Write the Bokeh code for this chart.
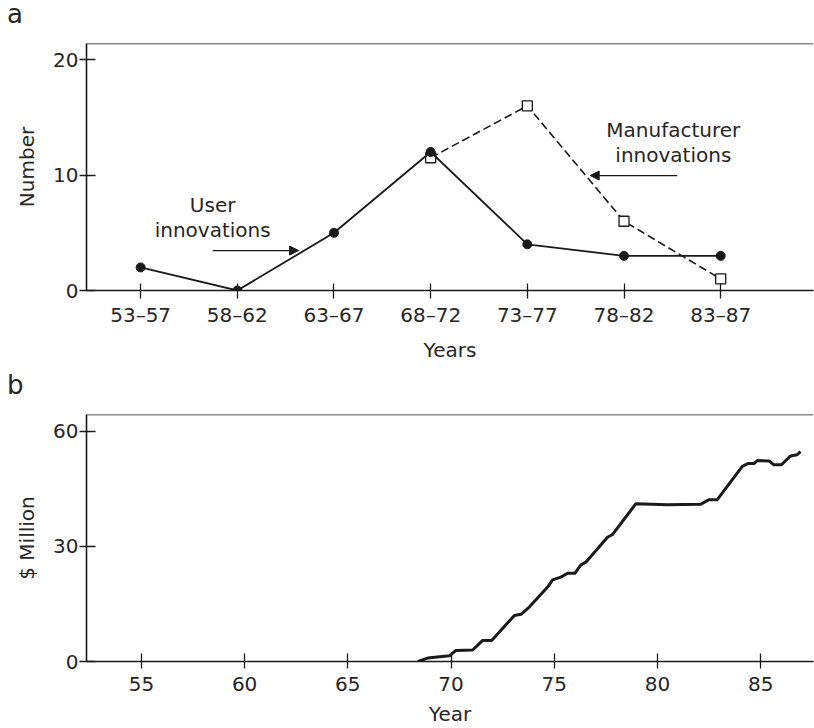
from bokeh.plotting import figure
from bokeh.models import Range1d, FixedTicker, Label, Arrow, NormalHead, Span, Div
from bokeh.layouts import column
from bokeh.embed import file_html
from bokeh.resources import INLINE

# ---------------- data ----------------
periods = ["53–57", "58–62", "63–67", "68–72", "73–77", "78–82", "83–87"]
user_innov = [2, 0, 5, 12, 4, 3, 3]
manuf_periods = ["68–72", "73–77", "78–82", "83–87"]
manuf_innov = [11.5, 16, 6, 1]

years = [68.39, 68.87, 69.92, 70.24, 71.05, 71.53, 71.97, 73.07, 73.39, 73.79,
         74.68, 74.92, 75.32, 75.65, 76.0, 76.29, 76.53, 77.58, 77.82, 78.95,
         80.48, 82.1, 82.5, 82.9, 84.11, 84.38, 84.67, 84.84, 85.4, 85.64,
         86.01, 86.45, 86.77, 86.93]
million = [0, 0.9, 1.5, 2.9, 3.0, 5.5, 5.5, 12.0, 12.3, 14.2,
           19.4, 21.3, 22.0, 23.0, 23.0, 25.2, 25.9, 32.4, 33.1, 41.1,
           40.9, 41.0, 42.2, 42.2, 50.9, 51.6, 51.6, 52.4, 52.3, 51.3,
           51.3, 53.6, 53.9, 54.7]

a_yticks = [0, 10, 20]
b_xticks = [55, 60, 65, 70, 75, 80, 85]
b_yticks = [0, 30, 60]

FONT = "DejaVu Sans"
TXT = "#262626"
INK = "#1a1a1a"


def style(p):
    p.outline_line_color = None
    p.xgrid.visible = False
    p.ygrid.visible = False
    p.background_fill_color = "white"
    p.border_fill_color = "white"
    for ax in (p.xaxis[0], p.yaxis[0]):
        ax.axis_line_color = INK
        ax.axis_line_width = 1.6
        ax.major_tick_line_color = INK
        ax.major_tick_line_width = 1.3
        ax.minor_tick_line_color = None
        ax.major_label_text_font = FONT
        ax.major_label_text_font_size = "20px"
        ax.major_label_text_color = TXT
        ax.axis_label_text_font = FONT
        ax.axis_label_text_font_size = "20px"
        ax.axis_label_text_font_style = "normal"
        ax.axis_label_text_color = TXT
    p.yaxis.major_tick_in = 9
    p.yaxis.major_tick_out = 7
    p.yaxis.major_label_standoff = 1
    p.yaxis.axis_label_standoff = 11
    # top spine
    p.add_layout(Span(location=p.y_range.end, dimension="width",
                      line_color=INK, line_width=1.6))


def letter(txt, h, lh):
    return Div(text=txt, width=814, height=h,
               styles={"font-family": FONT, "font-size": "26px",
                       "line-height": f"{lh}px", "color": TXT,
                       "padding-left": "7px", "margin": "0"})


# ---------------- panel a ----------------
xa = list(range(len(periods)))
xm = [periods.index(c) for c in manuf_periods]

p1 = figure(width=814, height=342, min_border_left=86, min_border_right=1,
            min_border_top=15, min_border_bottom=80,
            x_range=Range1d(-0.56, 6.96), y_range=Range1d(0, 21.4),
            output_backend="svg", toolbar_location=None, tools="")
style(p1)
p1.xaxis.ticker = FixedTicker(ticks=xa)
p1.xaxis.major_label_overrides = {i: c for i, c in enumerate(periods)}
p1.yaxis.ticker = FixedTicker(ticks=a_yticks)
p1.xaxis.axis_label = "Years"
p1.yaxis.axis_label = "Number"
p1.xaxis.major_tick_in = 7
p1.xaxis.major_tick_out = 8
p1.xaxis.major_label_standoff = 4
p1.xaxis.axis_label_standoff = 8

p1.line(xm, manuf_innov, line_color=INK, line_width=1.6, line_dash="8 4")
p1.scatter(xm, manuf_innov, marker="square", size=10, fill_color="white",
           line_color=INK, line_width=1.3)
p1.line(xa, user_innov, line_color=INK, line_width=1.8)
p1.scatter(xa, user_innov, marker="circle", size=9, fill_color=INK,
           line_color=INK)

p1.add_layout(Label(x=0.745, y=6.3, text="User\ninnovations",
                    text_align="center", text_baseline="middle",
                    text_font=FONT, text_font_size="20px", text_color=TXT,
                    text_line_height=1.03))
p1.add_layout(Arrow(x_start=0.745, y_start=3.46, x_end=1.634, y_end=3.46,
                    line_color=INK, line_width=1.3,
                    end=NormalHead(size=9, fill_color=INK, line_color=INK)))
p1.add_layout(Label(x=5.51, y=12.8, text="Manufacturer\ninnovations",
                    text_align="center", text_baseline="middle",
                    text_font=FONT, text_font_size="20px", text_color=TXT,
                    text_line_height=1.03))
p1.add_layout(Arrow(x_start=5.55, y_start=9.96, x_end=4.65, y_end=9.96,
                    line_color=INK, line_width=1.3,
                    end=NormalHead(size=9, fill_color=INK, line_color=INK)))

# ---------------- panel b ----------------
p2 = figure(width=814, height=330, min_border_left=86, min_border_right=1,
            min_border_top=16, min_border_bottom=67,
            x_range=Range1d(52.34, 87.56), y_range=Range1d(0, 64.4),
            output_backend="svg", toolbar_location=None, tools="")
style(p2)
p2.xaxis.ticker = FixedTicker(ticks=b_xticks)
p2.yaxis.ticker = FixedTicker(ticks=b_yticks)
p2.yaxis.axis_label = "$ Million"
p2.xaxis.axis_label = "Year"
p2.xaxis.major_tick_in = 8
p2.xaxis.major_tick_out = 7
p2.xaxis.major_label_standoff = 8
p2.xaxis.axis_label_standoff = 8

p2.line(years, million, line_color=INK, line_width=3, line_join="round")

layout = column(letter("a", 28, 28), p1, letter("b", 28, 30), p2, spacing=0)
open("out.html", "w").write(file_html(layout, INLINE))
